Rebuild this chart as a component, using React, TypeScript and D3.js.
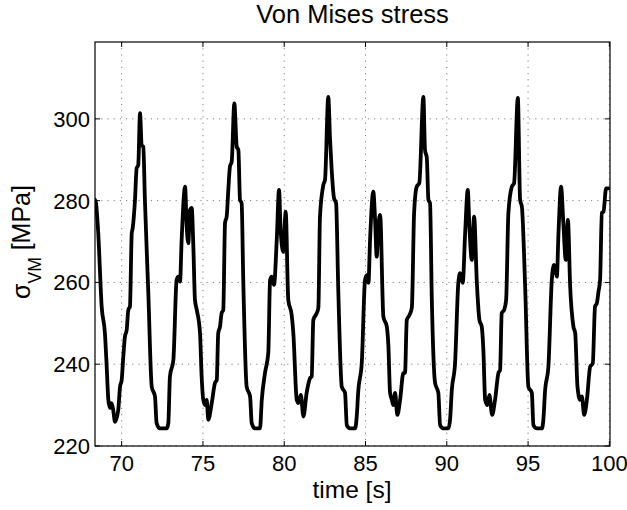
import React from "react";
import * as d3 from "d3";

const timeS = [
  68.36, 68.42, 68.56, 68.77, 68.97, 69.08, 69.18, 69.28, 69.38, 69.48, 69.59, 69.79, 69.9, 70.0, 70.1, 70.2, 70.31, 70.41, 70.51, 70.62,
  70.68, 70.82, 70.92, 71.02, 71.13, 71.23, 71.33, 71.43, 71.64, 71.85, 72.05, 72.15, 72.36, 72.77, 72.87, 72.97, 73.18, 73.38, 73.48, 73.59,
  73.69, 73.9, 74.0, 74.1, 74.2, 74.31, 74.41, 74.51, 74.62, 74.82, 74.92, 75.02, 75.13, 75.23, 75.33, 75.54, 75.74, 75.85, 75.94, 76.05,
  76.15, 76.25, 76.36, 76.46, 76.56, 76.66, 76.77, 76.93, 77.08, 77.18, 77.28, 77.38, 77.48, 77.69, 77.9, 78.0, 78.2, 78.51, 78.62, 78.82,
  79.02, 79.13, 79.23, 79.37, 79.54, 79.68, 79.78, 79.94, 80.09, 80.25, 80.46, 80.56, 80.77, 80.87, 81.02, 81.18, 81.38, 81.59, 81.69, 81.79,
  82.0, 82.1, 82.2, 82.41, 82.51, 82.71, 82.82, 82.92, 83.06, 83.19, 83.33, 83.54, 83.74, 83.85, 84.05, 84.36, 84.46, 84.56, 84.77, 84.97,
  85.08, 85.18, 85.28, 85.48, 85.59, 85.69, 85.79, 85.9, 86.1, 86.31, 86.41, 86.51, 86.62, 86.71, 86.82, 86.96, 87.13, 87.33, 87.43, 87.54,
  87.7, 87.85, 87.99, 88.15, 88.31, 88.56, 88.66, 88.77, 88.87, 88.97, 89.08, 89.28, 89.48, 89.59, 89.79, 90.1, 90.2, 90.31, 90.51, 90.71,
  90.82, 90.98, 91.13, 91.29, 91.39, 91.54, 91.68, 91.85, 92.01, 92.15, 92.25, 92.36, 92.5, 92.62, 92.79, 92.97, 93.18, 93.28, 93.38, 93.53,
  93.65, 93.79, 94.0, 94.14, 94.37, 94.51, 94.62, 94.82, 95.02, 95.23, 95.33, 95.54, 95.85, 95.94, 96.05, 96.25, 96.46, 96.6, 96.77, 96.87,
  97.03, 97.17, 97.32, 97.45, 97.59, 97.79, 97.9, 98.04, 98.2, 98.31, 98.45, 98.62, 98.82, 98.98, 99.12, 99.23, 99.33, 99.43, 99.54, 99.64,
  99.8, 99.94,
];

const stressMPa = [
  280.2, 279.4, 272.0, 254.1, 247.6, 239.4, 231.3, 229.3, 230.5, 228.8, 225.9, 228.8, 234.5, 236.1, 241.8, 246.7, 248.4, 253.3, 254.1, 272.0,
  273.3, 280.2, 287.9, 288.7, 301.4, 293.6, 293.2, 280.2, 257.4, 234.5, 232.1, 225.6, 224.3, 224.3, 225.6, 237.0, 241.0, 260.6, 261.4, 260.2,
  270.4, 283.4, 273.7, 269.6, 277.7, 278.2, 268.8, 255.7, 253.3, 247.6, 237.0, 231.3, 230.0, 231.3, 226.4, 230.5, 235.4, 236.1, 247.6, 249.2,
  252.5, 253.3, 274.6, 276.1, 282.6, 288.3, 289.6, 303.8, 293.2, 292.4, 280.2, 279.4, 260.6, 234.5, 232.1, 225.6, 224.3, 224.3, 231.3, 237.9,
  242.8, 260.6, 261.4, 259.4, 270.4, 282.6, 272.8, 267.5, 277.3, 255.7, 252.0, 247.6, 231.3, 230.5, 232.5, 227.2, 233.0, 236.6, 237.0, 250.8,
  252.5, 253.8, 276.1, 283.9, 285.1, 305.4, 294.9, 287.5, 280.7, 279.4, 257.4, 234.5, 233.0, 225.1, 224.3, 224.3, 227.2, 233.7, 240.3, 260.6,
  261.8, 259.9, 270.4, 282.2, 275.3, 266.3, 273.7, 276.5, 251.6, 249.2, 244.3, 233.0, 231.3, 230.0, 233.0, 227.6, 231.3, 237.9, 237.9, 250.8,
  252.0, 253.8, 277.0, 283.4, 284.3, 305.4, 292.4, 290.5, 280.2, 279.4, 255.7, 235.4, 233.0, 225.1, 224.3, 224.3, 226.4, 233.7, 240.3, 259.9,
  262.3, 259.9, 272.1, 282.6, 273.7, 265.5, 276.1, 259.9, 250.8, 249.2, 243.5, 231.3, 230.0, 232.5, 227.6, 231.3, 237.9, 238.6, 252.5, 253.3,
  255.7, 277.0, 283.4, 284.3, 305.1, 280.2, 278.5, 259.0, 234.5, 233.0, 225.1, 224.3, 224.3, 226.4, 233.7, 239.4, 260.6, 264.3, 261.4, 272.0,
  283.4, 274.5, 265.5, 275.3, 259.0, 249.2, 247.6, 234.5, 231.3, 232.1, 227.6, 231.3, 239.4, 240.2, 254.1, 254.9, 257.7, 260.6, 277.0, 277.3,
  283.0, 283.0,
];

const xTicks = [70, 75, 80, 85, 90, 95, 100];
const yTicks = [220, 240, 260, 280, 300];
const titleText = "Von Mises stress";
const xLabelText = "time [s]";

const W = 627;
const H = 510;
const M = { left: 95, right: 610, top: 42, bottom: 446 };
const FONT = "'Liberation Sans', Arial, Helvetica, sans-serif";

export default function App() {
  const x = d3.scaleLinear().domain([68.36, 100.04]).range([M.left, M.right]);
  const y = d3.scaleLinear().domain([220, 318.8]).range([M.bottom, M.top]);
  const pts = timeS.map((t, i) => [t, stressMPa[i]] as [number, number]);
  const line = d3
    .line<[number, number]>()
    .x((d) => x(d[0]))
    .y((d) => y(d[1]))
    .curve(d3.curveMonotoneX);
  const tl = 5;
  return (
    <svg
      width={W}
      height={H}
      style={{ position: "absolute", left: 0, top: 0, background: "#fff" }}
      fontFamily={FONT}
    >
      <rect x={0} y={0} width={W} height={H} fill="#fff" />
      {xTicks.map((t) => (
        <line
          key={"gx" + t}
          x1={x(t)}
          x2={x(t)}
          y1={M.top}
          y2={M.bottom}
          stroke="#808080"
          strokeWidth={1}
          strokeDasharray="1.2,5"
        />
      ))}
      {yTicks.map((t) => (
        <line
          key={"gy" + t}
          x1={M.left}
          x2={M.right}
          y1={y(t)}
          y2={y(t)}
          stroke="#808080"
          strokeWidth={1}
          strokeDasharray="1.2,5"
        />
      ))}
      <defs>
        <clipPath id="plotclip">
          <rect x={M.left} y={M.top} width={M.right - M.left} height={M.bottom - M.top} />
        </clipPath>
      </defs>
      <path
        d={line(pts) || ""}
        fill="none"
        stroke="#000"
        strokeWidth={3.8}
        strokeLinejoin="round"
        strokeLinecap="round"
        clipPath="url(#plotclip)"
      />
      <rect
        x={M.left}
        y={M.top}
        width={M.right - M.left}
        height={M.bottom - M.top}
        fill="none"
        stroke="#000"
        strokeWidth={1.2}
      />
      {xTicks.map((t) => (
        <g key={"tx" + t}>
          <line x1={x(t)} x2={x(t)} y1={M.bottom} y2={M.bottom - tl} stroke="#000" strokeWidth={1} />
          <line x1={x(t)} x2={x(t)} y1={M.top} y2={M.top + tl} stroke="#000" strokeWidth={1} />
          <text x={x(t)} y={471} textAnchor="middle" fontSize={22} fill="#000">
            {t}
          </text>
        </g>
      ))}
      {yTicks.map((t) => (
        <g key={"ty" + t}>
          <line x1={M.left} x2={M.left + tl} y1={y(t)} y2={y(t)} stroke="#000" strokeWidth={1} />
          <line x1={M.right} x2={M.right - tl} y1={y(t)} y2={y(t)} stroke="#000" strokeWidth={1} />
          <text x={90} y={y(t)} dy="0.36em" textAnchor="end" fontSize={22} fill="#000">
            {t}
          </text>
        </g>
      ))}
      <text x={(M.left + M.right) / 2} y={23} textAnchor="middle" fontSize={25.5} fill="#000">
        {titleText}
      </text>
      <text x={352} y={498} textAnchor="middle" fontSize={24.5} fill="#000">
        {xLabelText}
      </text>
      <text transform="translate(30,242) rotate(-90)" textAnchor="middle" fontSize={25} fill="#000">
        <tspan>σ</tspan>
        <tspan fontSize={17.5} dy={11}>VM</tspan>
        <tspan dy={-11}> [MPa]</tspan>
      </text>
    </svg>
  );
}
